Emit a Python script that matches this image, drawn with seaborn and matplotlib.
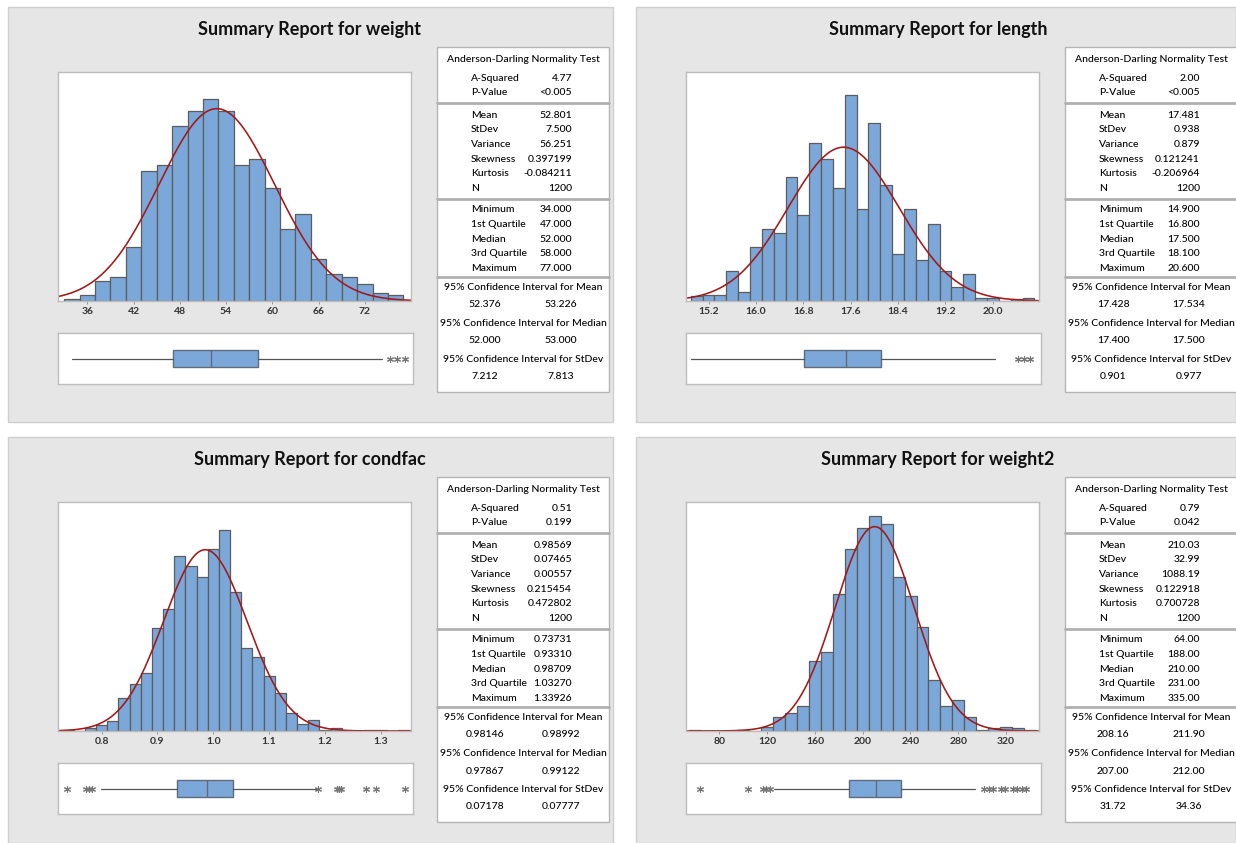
import numpy as np
import pandas as pd
import seaborn as sns
import matplotlib.pyplot as plt
from matplotlib.patches import Rectangle

# variables del informe
names = ['weight', 'length', 'condfac', 'weight2']

# histogramas: centros de clase y frecuencias
weight_centers = list(range(34, 78, 2))
weight_counts = [1, 4, 13, 16, 36, 86, 90, 116, 126, 134, 126, 90, 94, 75,
                 48, 58, 28, 18, 16, 11, 5, 4]

length_centers = [round(15.0 + 0.2 * i, 1) for i in range(29)]
length_counts = [3, 4, 4, 20, 6, 36, 48, 45, 82, 57, 105, 94, 75, 137, 61,
                 118, 77, 31, 61, 27, 51, 20, 9, 18, 2, 2, 0, 1, 2]

condfac_centers = [round(0.74 + 0.02 * i, 2) for i in range(31)]
condfac_counts = [1, 0, 2, 4, 7, 23, 33, 41, 73, 86, 124, 117, 109, 129, 142,
                  98, 59, 52, 39, 27, 13, 5, 8, 1, 2, 0, 0, 1, 1, 0, 1]

weight2_centers = list(range(60, 350, 10))
weight2_counts = [1, 0, 0, 0, 1, 0, 3, 10, 13, 18, 50, 56, 97, 129, 144, 153,
                  147, 109, 96, 74, 36, 18, 22, 10, 1, 2, 3, 2, 1]

bin_widths = [2, 0.2, 0.02, 10]

# estadisticos del panel
a_squared = ['4.77', '2.00', '0.51', '0.79']
p_value = ['<0.005', '<0.005', '0.199', '0.042']
mean = [52.801, 17.481, 0.98569, 210.03]
stdev = [7.500, 0.938, 0.07465, 32.99]
mean_txt = ['52.801', '17.481', '0.98569', '210.03']
stdev_txt = ['7.500', '0.938', '0.07465', '32.99']
variance_txt = ['56.251', '0.879', '0.00557', '1088.19']
skewness_txt = ['0.397199', '0.121241', '0.215454', '0.122918']
kurtosis_txt = ['-0.084211', '-0.206964', '0.472802', '0.700728']
n_obs = 1200
minimum_txt = ['34.000', '14.900', '0.73731', '64.00']
q1_txt = ['47.000', '16.800', '0.93310', '188.00']
median_txt = ['52.000', '17.500', '0.98709', '210.00']
q3_txt = ['58.000', '18.100', '1.03270', '231.00']
maximum_txt = ['77.000', '20.600', '1.33926', '335.00']
ci_mean = [('52.376', '53.226'), ('17.428', '17.534'), ('0.98146', '0.98992'), ('208.16', '211.90')]
ci_median = [('52.000', '53.000'), ('17.400', '17.500'), ('0.97867', '0.99122'), ('207.00', '212.00')]
ci_stdev = [('7.212', '7.813'), ('0.901', '0.977'), ('0.07178', '0.07777'), ('31.72', '34.36')]

# diagramas de caja
q1 = [47, 16.8, 0.9331, 188]
med = [52, 17.5, 0.98709, 210]
q3 = [58, 18.1, 1.0327, 231]
whisker_lo = [34, 14.9, 0.798, 125]
whisker_hi = [74, 20.0, 1.181, 293]
outliers = [[75, 76, 77],
            [20.4, 20.5, 20.6],
            [0.7373, 0.771, 0.778, 0.782, 1.185, 1.218, 1.222, 1.226, 1.271, 1.289, 1.3393],
            [64, 104, 116, 119, 122, 300, 304, 308, 314, 318, 324, 328, 332, 335]]

# ejes
x_limits = [(32.2, 78.0), (14.82, 20.78), (0.722, 1.354), (52.1, 347.6)]
y_tops = [152, 152, 162, 162.6]
x_ticks = [[36, 42, 48, 54, 60, 66, 72],
           [15.2, 16.0, 16.8, 17.6, 18.4, 19.2, 20.0],
           [0.8, 0.9, 1.0, 1.1, 1.2, 1.3],
           [80, 120, 160, 200, 240, 280, 320]]
tick_fmt = ['{:.0f}', '{:.1f}', '{:.1f}', '{:.0f}']

hist_data = [(weight_centers, weight_counts), (length_centers, length_counts),
             (condfac_centers, condfac_counts), (weight2_centers, weight2_counts)]

sns.set_theme(style='white')
plt.rcParams['font.family'] = ['Lato', 'DejaVu Sans']

W, H = 1236, 843
fig = plt.figure(figsize=(W / 100, H / 100), dpi=100)
fig.patch.set_facecolor('white')

BAR = '#7BA7D9'
EDGE = '#5c5c5c'
CURVE = '#A31818'


def add_ax(x0, y0, x1, y1):
    return fig.add_axes([x0 / W, 1 - y1 / H, (x1 - x0) / W, (y1 - y0) / H])


def fx(x):
    return x / W


def fy(y):
    return 1 - y / H


offsets = [(0, 0), (628, 0), (0, 430), (628, 430)]
panel_size = [(605, 415), (600, 415), (605, 406), (600, 406)]

for i, name in enumerate(names):
    ox, oy = offsets[i]

    # fondo gris del panel
    pw, ph = panel_size[i]
    fig.patches.append(Rectangle((fx(8 + ox), fy(7 + oy + ph)), pw / W, ph / H,
                                 transform=fig.transFigure, facecolor='#e6e6e6',
                                 edgecolor='#cfcfcf', lw=1, zorder=-5))

    fig.text(fx(310 + ox), fy(30 + oy), f'Summary Report for {name}',
             ha='center', va='center', fontsize=13, fontweight='bold', color='#111111')

    # histograma con curva normal
    ax = add_ax(58 + ox, 72 + oy, 411 + ox, 301 + oy)
    centers, counts = hist_data[i]
    bw = bin_widths[i]
    lo = centers[0] - bw / 2
    hi = centers[-1] + bw / 2
    df = pd.DataFrame({'x': centers, 'n': counts})
    sns.histplot(data=df, x='x', weights='n', binwidth=bw, binrange=(lo, hi + bw * 0.01),
                 ax=ax, color=BAR, edgecolor=EDGE, linewidth=0.9, alpha=1)
    xs = np.linspace(x_limits[i][0], x_limits[i][1], 400)
    pdf = np.exp(-0.5 * ((xs - mean[i]) / stdev[i]) ** 2) / (stdev[i] * np.sqrt(2 * np.pi))
    ax.plot(xs, pdf * n_obs * bw, color=CURVE, lw=1.15)
    ax.set_xlim(*x_limits[i])
    ax.set_ylim(0, y_tops[i])
    ax.set_xticks(x_ticks[i])
    ax.set_xticklabels([tick_fmt[i].format(t) for t in x_ticks[i]], fontsize=7.5,
                       fontweight='bold', color='#333333')
    ax.set_yticks([])
    ax.set_xlabel('')
    ax.set_ylabel('')
    ax.tick_params(axis='x', length=2, width=0.6, color='#888888', pad=2, bottom=True)
    ax.set_facecolor('white')
    for sp in ax.spines.values():
        sp.set_color('#bdbdbd')
        sp.set_linewidth(1)

    # diagrama de caja
    bax = add_ax(58 + ox, 333 + oy, 413 + ox, 384 + oy)
    stats = [dict(med=med[i], q1=q1[i], q3=q3[i], whislo=whisker_lo[i],
                  whishi=whisker_hi[i], fliers=outliers[i])]
    bax.bxp(stats, positions=[0.5], widths=0.35, vert=False, patch_artist=True,
            showcaps=False,
            boxprops=dict(facecolor=BAR, edgecolor='#5f6b7a', linewidth=1),
            medianprops=dict(color='#5f6b7a', linewidth=1),
            whiskerprops=dict(color='#555555', linewidth=0.9),
            flierprops=dict(marker=(6, 2, 0), markersize=5, markeredgecolor='#777777',
                            markeredgewidth=0.8, linestyle='none'))
    bax.set_xlim(*x_limits[i])
    bax.set_ylim(0, 1)
    bax.set_xticks([])
    bax.set_yticks([])
    bax.set_facecolor('white')
    for sp in bax.spines.values():
        sp.set_color('#bdbdbd')
        sp.set_linewidth(1)

    # tabla de estadisticos
    tx0, ty0 = 437 + ox, 47 + oy
    tw, th = 172, 345
    fig.patches.append(Rectangle((fx(tx0), fy(ty0 + th)), tw / W, th / H,
                                 transform=fig.transFigure, facecolor='white',
                                 edgecolor='#b5b5b5', lw=1, zorder=1))
    for sep in [56.3, 152, 230.3]:
        fig.lines.append(plt.Line2D([fx(tx0), fx(tx0 + tw)], [fy(ty0 + sep)] * 2,
                                    transform=fig.transFigure, color='#b0b0b0', lw=2))

    fs = 7.5
    tc = '#000000'
    fw = 'medium'

    def row(label, value, y):
        fig.text(fx(tx0 + 34), fy(ty0 + y), label, ha='left', va='center', fontsize=fs,
                 color=tc, fontweight=fw)
        fig.text(fx(tx0 + 135), fy(ty0 + y), value, ha='right', va='center', fontsize=fs,
                 color=tc, fontweight=fw)

    def centre(txt, y):
        fig.text(fx(tx0 + tw / 2), fy(ty0 + y), txt, ha='center', va='center', fontsize=fs,
                 color=tc, fontweight=fw)

    def pair(vals, y):
        fig.text(fx(tx0 + 48), fy(ty0 + y), vals[0], ha='center', va='center', fontsize=fs,
                 color=tc, fontweight=fw)
        fig.text(fx(tx0 + 124), fy(ty0 + y), vals[1], ha='center', va='center', fontsize=fs,
                 color=tc, fontweight=fw)

    centre('Anderson-Darling Normality Test', 13)
    row('A-Squared', a_squared[i], 31.3)
    row('P-Value', p_value[i], 45.7)
    row('Mean', mean_txt[i], 68)
    row('StDev', stdev_txt[i], 82.7)
    row('Variance', variance_txt[i], 97.3)
    row('Skewness', skewness_txt[i], 112)
    row('Kurtosis', kurtosis_txt[i], 126.7)
    row('N', str(n_obs), 141.3)
    row('Minimum', minimum_txt[i], 163)
    row('1st Quartile', q1_txt[i], 177.7)
    row('Median', median_txt[i], 192.3)
    row('3rd Quartile', q3_txt[i], 207)
    row('Maximum', maximum_txt[i], 221.7)
    centre('95% Confidence Interval for Mean', 240)
    pair(ci_mean[i], 257.3)
    centre('95% Confidence Interval for Median', 276.7)
    pair(ci_median[i], 294)
    centre('95% Confidence Interval for StDev', 312.3)
    pair(ci_stdev[i], 329.7)

fig.savefig('out.png', dpi=100)
